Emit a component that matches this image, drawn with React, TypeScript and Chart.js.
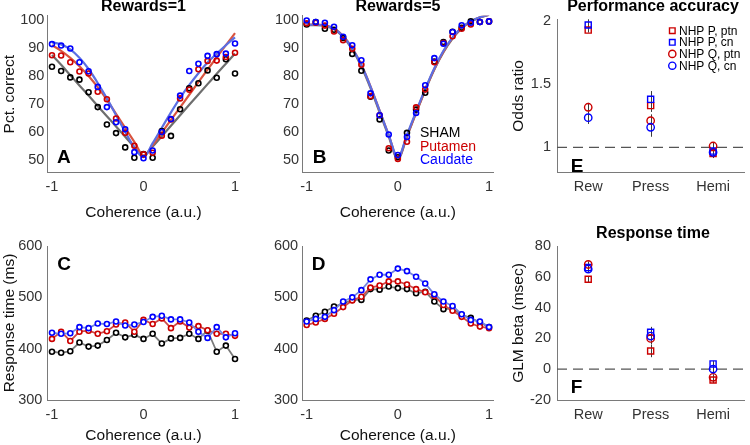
import React, { useEffect, useRef } from 'react';
import { Chart, registerables } from 'chart.js';

Chart.register(...registerables);

const FONT = '"Liberation Sans", Arial, Helvetica, sans-serif';

// ---------------- data ----------------
const coherence = [-1, -0.9, -0.8, -0.7, -0.6, -0.5, -0.4, -0.3, -0.2, -0.1, 0, 0.1, 0.2, 0.3, 0.4, 0.5, 0.6, 0.7, 0.8, 0.9, 1];
const cohTicks = [-1, 0, 1];
const pctTicks = [50, 60, 70, 80, 90, 100];
const rtTicks = [300, 400, 500, 600];
const groupNames = ['SHAM', 'Putamen', 'Caudate'];

// Panel A: Rewards=1, percent correct
const accR1Sham = [83.3, 81.8, 79.5, 78.7, 74.2, 68.9, 62.7, 59.6, 54.5, 50.8, 52.1, 50.8, 60.3, 58.6, 68.1, 75.6, 77.4, 82, 79.4, 86, 80.9];
const accR1Put = [87.4, 87.3, 84.9, 81.6, 80.9, 74.4, 71.7, 64.8, 59.7, 55.1, 52, 52.6, 58.7, 64.5, 72, 75.1, 82.4, 85.4, 85.5, 86.8, 88.3];
const accR1Cau = [91.4, 90.9, 89.8, 84.9, 81.7, 76.1, 68.9, 63.5, 61, 52.8, 50.6, 53.4, 60, 64.6, 73, 81.8, 84.4, 87.2, 87.8, 88, 91.6];
const fitR1Sham = [87.5, 84, 80.3, 76.6, 73, 69.3, 65.6, 62, 58.3, 54.6, 51.5, 54.8, 58.5, 62.2, 66, 69.7, 73.4, 77.1, 80.8, 84.4, 88];
const fitR1Put = [91, 89, 86.5, 83.5, 80, 76, 71.5, 66.5, 61.5, 56.5, 51.6, 55.3, 59.8, 64.3, 68.8, 73.3, 77.8, 82.3, 86.7, 91, 95.3];
const fitR1Cau = [92, 91.3, 89.5, 86.5, 82.5, 77.5, 72, 66, 60, 54.5, 51, 56, 61.5, 67, 72.2, 76.8, 81, 84.8, 88, 91, 93.8];

// Panel B: Rewards=5, percent correct
const accR5Sham = [98.4, 99.3, 96.9, 96.5, 93.6, 87.9, 81.9, 72.6, 64.5, 53.4, 51, 59.7, 68, 74, 85.2, 92.1, 95.8, 97.2, 99.5, 99.3, 99.5];
const accR5Put = [98.8, 99, 98, 95.9, 92.8, 89.7, 84, 72.8, 66, 54.2, 50.4, 56.5, 68.8, 75.2, 84.9, 91.8, 94.2, 96.9, 98.4, 99.3, 99.5];
const accR5Cau = [99.8, 99.3, 99, 97.6, 94, 91, 85.6, 73.8, 66, 59.1, 51.8, 58.2, 66.8, 76.7, 86.4, 91.5, 95.7, 98.1, 99, 99.3, 99.5];
const fitR5Sham = [98.2, 98.2, 97.9, 96.7, 93.9, 89.5, 83.4, 75.7, 67, 58.4, 50.3, 58.4, 66.8, 74.9, 82.3, 88.5, 93.4, 97, 99.4, 100.9, 101.8];
const fitR5Put = [98.4, 98.4, 98.1, 97, 94.3, 90, 84, 76.3, 67.6, 58.9, 50.6, 58.6, 66.9, 75, 82.5, 88.7, 93.6, 97.2, 99.5, 101, 101.9];
const fitR5Cau = [98.3, 98.3, 98, 96.9, 94.2, 89.9, 83.9, 76.2, 67.6, 58.9, 50.8, 59, 67.3, 75.4, 82.8, 89, 93.8, 97.3, 99.6, 101, 101.9];

// Panel C: Rewards=1, response time (ms)
const rtR1Sham = [394, 392, 395, 412, 404, 406, 417, 431, 422, 427, 419, 429, 410, 420, 421, 429, 419, 435, 394, 406, 380];
const rtR1Put = [419, 433, 415, 433, 435, 429, 434, 447, 451, 433, 456, 448, 459, 440, 453, 441, 444, 436, 429, 429, 425];
const rtR1Cau = [431, 429, 430, 442, 440, 449, 448, 453, 445, 447, 452, 462, 464, 457, 457, 451, 433, 421, 442, 422, 430];

// Panel D: Rewards=5, response time (ms)
const rtR5Sham = [455, 464, 472, 482, 488, 495, 495, 516, 515, 521, 518, 516, 508, 511, 492, 477, 478, 466, 460, 451, 442];
const rtR5Put = [446, 451, 458, 468, 481, 494, 501, 519, 523, 531, 531, 525, 516, 510, 503, 485, 474, 462, 449, 443, 440];
const rtR5Cau = [453, 458, 462, 475, 492, 500, 514, 535, 544, 544, 556, 551, 540, 527, 506, 492, 483, 467, 456, 453, 442];

// Panels E, F: effects
const effectCats = ['Rew', 'Press', 'Hemi'];
const effectX = [1, 2, 3];
const legendNames = ['NHP P, ptn', 'NHP P, cn', 'NHP Q, ptn', 'NHP Q, cn'];
const oddsTicks = [1, 1.5, 2];
const oddsPptn = [1.926, 1.329, 0.95];
const oddsPcn = [1.966, 1.379, 0.97];
const oddsQptn = [1.316, 1.21, 1.01];
const oddsQcn = [1.234, 1.158, 0.96];
const oddsPptnErr = [0.02, 0.05, 0.03];
const oddsPcnErr = [0.045, 0.065, 0.03];
const oddsQptnErr = [0.035, 0.05, 0.025];
const oddsQcnErr = [0.05, 0.075, 0.045];
const oddsRef = [1, 1];

const glmTicks = [-20, 0, 20, 40, 60, 80];
const glmPptn = [58.4, 11.8, -7];
const glmPcn = [66, 24, 3.4];
const glmQptn = [68, 20, -5.3];
const glmQcn = [65, 21.5, 0.1];
const glmPptnErr = [2, 4, 2];
const glmPcnErr = [2, 3.5, 2];
const glmQptnErr = [2, 4, 2];
const glmQcnErr = [2, 5, 3];
const glmRef = [0, 0];
const refX = [0.5, 3.5];

// ---------------- styles ----------------
const M_BLACK = '#000000';
const M_RED = '#cc0000';
const M_BLUE = '#0000ff';
const L_GRAY = '#6e6e6e';
const L_RED = '#d9543f';
const L_BLUE = '#5b6fe3';
const R_GRAY = '#7a7a7a';
const R_RED = '#cf4a4a';
const R_BLUE = '#7585e0';
const AXIS = '#7a7a7a';
const TICK = '#333333';

const pts = (xs: number[], ys: number[]) => xs.map((x, i) => ({ x, y: ys[i] }));

const pointDs = (ys: number[], color: string) => ({
  data: pts(coherence, ys),
  showLine: false,
  borderColor: color,
  backgroundColor: 'rgba(255,255,255,0)',
  pointBorderColor: color,
  pointBackgroundColor: 'rgba(255,255,255,0)',
  pointRadius: 2.5,
  pointBorderWidth: 1.6,
  pointHoverRadius: 2.5,
});

const fitDs = (ys: number[], color: string) => ({
  data: pts(coherence, ys),
  showLine: true,
  borderColor: color,
  borderWidth: 2.2,
  pointRadius: 0,
  pointHoverRadius: 0,
  cubicInterpolationMode: 'monotone',
});

const rtDs = (ys: number[], marker: string, line: string) => ({
  data: pts(coherence, ys),
  showLine: true,
  borderColor: line,
  borderWidth: 1.8,
  pointBorderColor: marker,
  pointBackgroundColor: '#ffffff',
  pointRadius: 2.5,
  pointBorderWidth: 1.6,
  pointHoverRadius: 2.5,
});

const effDs = (ys: number[], color: string, shape: string) => ({
  data: pts(effectX, ys),
  showLine: false,
  borderColor: color,
  pointBorderColor: color,
  pointBackgroundColor: 'rgba(255,255,255,0)',
  pointStyle: shape,
  pointRadius: shape === 'rect' ? 4.3 : 3.7,
  pointBorderWidth: 1.4,
  pointHoverRadius: shape === 'rect' ? 4.3 : 3.7,
});

const refDs = (ys: number[]) => ({
  data: pts(refX, ys),
  showLine: true,
  borderColor: '#555555',
  borderWidth: 1.3,
  borderDash: [10, 6],
  pointRadius: 0,
  pointHoverRadius: 0,
});

// ---------------- decoration plugin ----------------
type PageText = { text: string; x: number; y: number; font: string; color: string; align?: CanvasTextAlign; baseline?: CanvasTextBaseline };
type ErrSeries = { values: number[]; err: number[] };
type LegendRow = { label: string; color: string; shape: 'rect' | 'circle'; y: number };

interface Decor {
  texts?: PageText[];
  errors?: ErrSeries[];
  legend?: { markerX: number; textX: number; rows: LegendRow[] };
}

function makeDecor(x0: number, y0: number, d: Decor) {
  return {
    id: 'decor',
    beforeDatasetsDraw(chart: any) {
      if (!d.errors) return;
      const { ctx, scales } = chart;
      ctx.save();
      ctx.strokeStyle = '#3a3a3a';
      ctx.lineWidth = 1;
      for (const s of d.errors) {
        s.values.forEach((v, i) => {
          const px = Math.round(scales.x.getPixelForValue(effectX[i])) + 0.5;
          const lo = scales.y.getPixelForValue(v - s.err[i]);
          const hi = scales.y.getPixelForValue(v + s.err[i]);
          ctx.beginPath();
          ctx.moveTo(px, lo);
          ctx.lineTo(px, hi);
          ctx.stroke();
        });
      }
      ctx.restore();
    },
    afterDraw(chart: any) {
      const ctx = chart.ctx as CanvasRenderingContext2D;
      ctx.save();
      for (const t of d.texts || []) {
        ctx.font = t.font;
        ctx.fillStyle = t.color;
        ctx.textAlign = t.align || 'left';
        ctx.textBaseline = t.baseline || 'alphabetic';
        ctx.fillText(t.text, t.x - x0, t.y - y0);
      }
      if (d.legend) {
        const lg = d.legend;
        for (const r of lg.rows) {
          const cx = lg.markerX - x0;
          const cy = r.y - y0;
          ctx.strokeStyle = r.color;
          ctx.lineWidth = 1.4;
          ctx.beginPath();
          if (r.shape === 'rect') ctx.rect(cx - 2.8, cy - 2.8, 5.6, 5.6);
          else ctx.arc(cx, cy, 3.6, 0, Math.PI * 2);
          ctx.stroke();
          ctx.font = `12px ${FONT}`;
          ctx.fillStyle = '#000';
          ctx.textAlign = 'left';
          ctx.textBaseline = 'middle';
          ctx.fillText(r.label, lg.textX - x0, cy + 0.5);
        }
      }
      ctx.restore();
    },
  };
}

// ---------------- panel specs ----------------
interface Panel {
  key: string;
  x0: number; y0: number; w: number; h: number;
  L: number; T: number; R: number; B: number;
  xMin: number; xMax: number; xTicks: number[]; xLabel?: (v: number) => string;
  yMin: number; yMax: number; yTicks: number[];
  yPad: number;
  xTitle?: string; yTitle?: string; yTitlePad?: number;
  datasets: any[];
  decor: Decor;
}

const titleFont = `bold 16px ${FONT}`;
const letterFont = `bold 19px ${FONT}`;

const panels: Panel[] = [
  {
    key: 'A', x0: 0, y0: 0, w: 248, h: 222, L: 47.4, T: 15.8, R: 239.6, B: 172.6,
    xMin: -1.05, xMax: 1.05, xTicks: cohTicks, yMin: 45.5, yMax: 101.5, yTicks: pctTicks, yPad: 3,
    xTitle: 'Coherence (a.u.)', yTitle: 'Pct. correct', yTitlePad: 0,
    datasets: [
      pointDs(accR1Cau, M_BLUE), pointDs(accR1Put, M_RED), pointDs(accR1Sham, M_BLACK),
      fitDs(fitR1Cau, L_BLUE), fitDs(fitR1Put, L_RED), fitDs(fitR1Sham, L_GRAY),
    ],
    decor: {
      texts: [
        { text: 'Rewards=1', x: 143.5, y: 11.3, font: titleFont, color: '#000', align: 'center' },
        { text: 'A', x: 57, y: 163.3, font: letterFont, color: '#000' },
      ],
    },
  },
  {
    key: 'B', x0: 250, y0: 0, w: 250, h: 222, L: 302.1, T: 15.8, R: 493.6, B: 172.6,
    xMin: -1.05, xMax: 1.05, xTicks: cohTicks, yMin: 45.5, yMax: 101.5, yTicks: pctTicks, yPad: 3,
    xTitle: 'Coherence (a.u.)',
    datasets: [
      pointDs(accR5Cau, M_BLUE), pointDs(accR5Put, M_RED), pointDs(accR5Sham, M_BLACK),
      fitDs(fitR5Cau, L_BLUE), fitDs(fitR5Put, L_RED), fitDs(fitR5Sham, L_GRAY),
    ],
    decor: {
      texts: [
        { text: 'Rewards=5', x: 397.9, y: 11.3, font: titleFont, color: '#000', align: 'center' },
        { text: 'B', x: 312.7, y: 163.3, font: letterFont, color: '#000' },
        { text: groupNames[0], x: 420, y: 137.3, font: `14px ${FONT}`, color: M_BLACK },
        { text: groupNames[1], x: 420, y: 150.8, font: `14px ${FONT}`, color: M_RED },
        { text: groupNames[2], x: 420, y: 164.3, font: `14px ${FONT}`, color: M_BLUE },
      ],
    },
  },
  {
    key: 'C', x0: 0, y0: 222, w: 248, h: 223, L: 47.4, T: 246, R: 239.6, B: 400,
    xMin: -1.05, xMax: 1.05, xTicks: cohTicks, yMin: 300, yMax: 600, yTicks: rtTicks, yPad: 5,
    xTitle: 'Coherence (a.u.)', yTitle: 'Response time (ms)', yTitlePad: 0,
    datasets: [
      rtDs(rtR1Cau, M_BLUE, R_BLUE), rtDs(rtR1Put, M_RED, R_RED), rtDs(rtR1Sham, M_BLACK, R_GRAY),
    ],
    decor: { texts: [{ text: 'C', x: 57.3, y: 270, font: letterFont, color: '#000' }] },
  },
  {
    key: 'D', x0: 250, y0: 222, w: 250, h: 223, L: 302.1, T: 246, R: 493.6, B: 400,
    xMin: -1.05, xMax: 1.05, xTicks: cohTicks, yMin: 300, yMax: 600, yTicks: rtTicks, yPad: 4,
    xTitle: 'Coherence (a.u.)',
    datasets: [
      rtDs(rtR5Cau, M_BLUE, R_BLUE), rtDs(rtR5Put, M_RED, R_RED), rtDs(rtR5Sham, M_BLACK, R_GRAY),
    ],
    decor: { texts: [{ text: 'D', x: 311.7, y: 270, font: letterFont, color: '#000' }] },
  },
  {
    key: 'E', x0: 500, y0: 0, w: 250, h: 222, L: 557, T: 19.4, R: 749, B: 172.6,
    xMin: 0.5, xMax: 3.5, xTicks: effectX, xLabel: (v) => effectCats[Math.round(v) - 1] || '',
    yMin: 0.8, yMax: 2.01, yTicks: oddsTicks, yPad: 6,
    yTitle: 'Odds ratio', yTitlePad: 9.7,
    datasets: [
      effDs(oddsQcn, M_BLUE, 'circle'), effDs(oddsQptn, M_RED, 'circle'),
      effDs(oddsPcn, M_BLUE, 'rect'), effDs(oddsPptn, M_RED, 'rect'),
      refDs(oddsRef),
    ],
    decor: {
      texts: [
        { text: 'Performance accuracy', x: 653, y: 11, font: titleFont, color: '#000', align: 'center' },
        { text: 'E', x: 570.7, y: 171.7, font: letterFont, color: '#000' },
      ],
      errors: [
        { values: oddsPptn, err: oddsPptnErr }, { values: oddsPcn, err: oddsPcnErr },
        { values: oddsQptn, err: oddsQptnErr }, { values: oddsQcn, err: oddsQcnErr },
      ],
      legend: {
        markerX: 672.3, textX: 679,
        rows: [
          { label: legendNames[0], color: M_RED, shape: 'rect', y: 30.7 },
          { label: legendNames[1], color: M_BLUE, shape: 'rect', y: 42.3 },
          { label: legendNames[2], color: M_RED, shape: 'circle', y: 53.9 },
          { label: legendNames[3], color: M_BLUE, shape: 'circle', y: 65.7 },
        ],
      },
    },
  },
  {
    key: 'F', x0: 500, y0: 222, w: 250, h: 223, L: 557, T: 246, R: 749, B: 400,
    xMin: 0.5, xMax: 3.5, xTicks: effectX, xLabel: (v) => effectCats[Math.round(v) - 1] || '',
    yMin: -20, yMax: 80, yTicks: glmTicks, yPad: 6,
    yTitle: 'GLM beta (msec)', yTitlePad: 9.7,
    datasets: [
      effDs(glmQcn, M_BLUE, 'circle'), effDs(glmQptn, M_RED, 'circle'),
      effDs(glmPcn, M_BLUE, 'rect'), effDs(glmPptn, M_RED, 'rect'),
      refDs(glmRef),
    ],
    decor: {
      texts: [
        { text: 'Response time', x: 653, y: 238.3, font: titleFont, color: '#000', align: 'center' },
        { text: 'F', x: 570.7, y: 393.3, font: letterFont, color: '#000' },
      ],
      errors: [
        { values: glmPptn, err: glmPptnErr }, { values: glmPcn, err: glmPcnErr },
        { values: glmQptn, err: glmQptnErr }, { values: glmQcn, err: glmQcnErr },
      ],
    },
  },
];

function buildConfig(p: Panel): any {
  const tickFont = { family: FONT, size: 14.5 };
  const labelFont = { family: FONT, size: 15.5 };
  return {
    type: 'line',
    data: { datasets: p.datasets },
    options: {
      responsive: false,
      animation: false,
      events: [],
      layout: { padding: { left: 0, top: p.T - p.y0, right: p.x0 + p.w - p.R, bottom: 0 } },
      plugins: { legend: { display: false }, tooltip: { enabled: false }, title: { display: false } },
      scales: {
        x: {
          type: 'linear',
          position: 'bottom',
          min: p.xMin,
          max: p.xMax,
          grid: { display: false, drawTicks: false },
          border: { display: true, color: AXIS, width: 1 },
          ticks: {
            font: tickFont,
            color: TICK,
            padding: 6,
            autoSkip: false,
            maxRotation: 0,
            callback: (v: number) => (p.xLabel ? p.xLabel(v) : String(v)),
          },
          afterBuildTicks: (ax: any) => { ax.ticks = p.xTicks.map((v) => ({ value: v })); },
          afterFit: (ax: any) => { ax.height = p.y0 + p.h - p.B; },
          title: p.xTitle
            ? { display: true, text: p.xTitle, font: labelFont, color: '#111', padding: { top: 0, bottom: 0 } }
            : { display: false },
        },
        y: {
          type: 'linear',
          position: 'left',
          min: p.yMin,
          max: p.yMax,
          grid: { display: false, drawTicks: false },
          border: { display: true, color: AXIS, width: 1 },
          ticks: {
            font: tickFont,
            color: TICK,
            padding: p.yPad,
            autoSkip: false,
            callback: (v: number) => String(v),
          },
          afterBuildTicks: (ax: any) => { ax.ticks = p.yTicks.map((v) => ({ value: v })); },
          afterFit: (ax: any) => { ax.width = p.L - p.x0; },
          title: p.yTitle
            ? { display: true, text: p.yTitle, font: labelFont, color: '#111', padding: { top: p.yTitlePad || 0, bottom: 0 } }
            : { display: false },
        },
      },
    },
    plugins: [makeDecor(p.x0, p.y0, p.decor)],
  };
}

export default function App() {
  const refs = useRef<(HTMLCanvasElement | null)[]>([]);
  useEffect(() => {
    const charts = panels.map((p, i) => new Chart(refs.current[i] as HTMLCanvasElement, buildConfig(p)));
    return () => charts.forEach((c) => c.destroy());
  }, []);
  return (
    <div style={{ position: 'fixed', left: 0, top: 0, width: 750, height: 445, background: '#ffffff', overflow: 'hidden' }}>
      {panels.map((p, i) => (
        <canvas
          key={p.key}
          ref={(el) => { refs.current[i] = el; }}
          width={p.w}
          height={p.h}
          style={{ position: 'absolute', left: p.x0, top: p.y0, width: p.w, height: p.h }}
        />
      ))}
    </div>
  );
}
